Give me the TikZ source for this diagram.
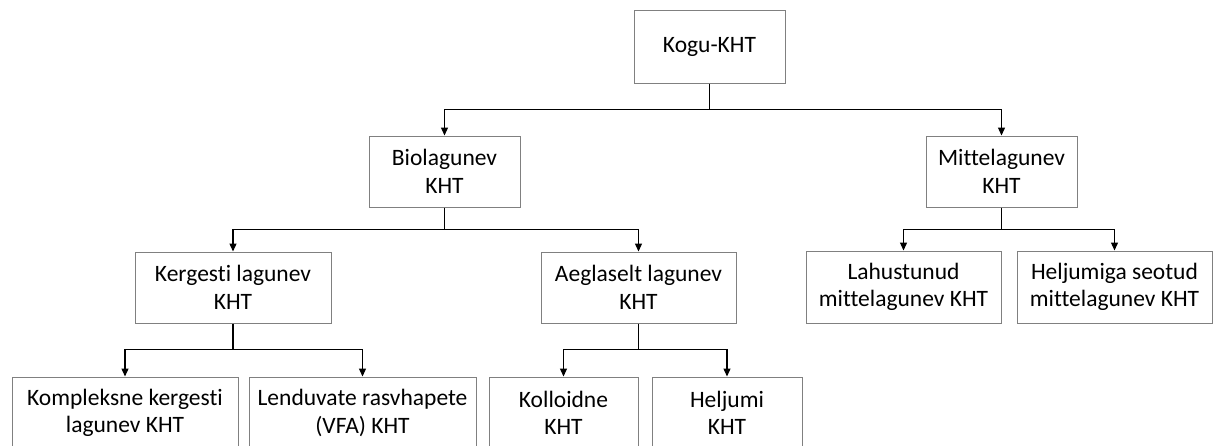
\documentclass[tikz,border=0pt]{standalone}
\usepackage{fontspec}
\setmainfont[RawFeature={-liga;-clig;-dlig}]{Carlito}
\usetikzlibrary{arrows.meta}
\definecolor{boxgray}{RGB}{128,128,128}
\begin{document}
\begin{tikzpicture}[x=1pt,y=-1pt,
  box/.style={draw=boxgray, line width=1pt, minimum height=72pt, align=center, inner sep=0pt,
    font=\fontsize{23.5}{27.5}\selectfont},
  conn/.style={line width=1.3pt, -{Triangle[width=7pt,length=8pt]}},
  trunk/.style={line width=1.3pt}]
\useasboundingbox (0,0) rectangle (1213,445);
\clip (0,0) rectangle (1213,445);
% level 0
\node[box, minimum width=151pt, minimum height=73pt] (kogu) at (709.5,46.5) {Kogu-KHT};
% level 1
\node[box, minimum width=151pt, minimum height=71pt] (bio) at (444.5,171.5) {Biolagunev\\KHT};
\node[box, minimum width=151pt, minimum height=71pt] (mitte) at (1001.5,171.5) {Mittelagunev\\KHT};
% level 2
\node[box, minimum width=196pt, minimum height=71pt] (kerg) at (233,287.5) {Kergesti lagunev\\KHT};
\node[box, minimum width=195pt, minimum height=71pt] (aegl) at (638.5,287.5) {Aeglaselt lagunev\\KHT};
\node[box, minimum width=195pt, minimum height=72pt] (lahu) at (903.5,287) {Lahustunud\\mittelagunev KHT};
\node[box, minimum width=195pt, minimum height=72pt] (helj) at (1114.5,287) {Heljumiga seotud\\mittelagunev KHT};
% level 3
\node[box, minimum width=226pt] (komp) at (125,413) {Kompleksne kergesti\\lagunev KHT};
\node[box, minimum width=227pt] (lend) at (362.5,413) {Lenduvate rasvhapete\\(VFA) KHT};
\node[box, minimum width=149pt] (koll) at (563.5,413) {Kolloidne\\KHT};
\node[box, minimum width=150pt] (heljk) at (727,413) {Heljumi\\KHT};
% connectors
\draw[trunk] (kogu.south) -- ++(0,26) coordinate (busA);
\draw[conn] (busA) -| (bio.north);
\draw[conn] (busA) -| (mitte.north);
\draw[trunk] (bio.south) -- ++(0,22) coordinate (busB);
\draw[conn] (busB) -| (kerg.north);
\draw[conn] (busB) -| (aegl.north);
\draw[trunk] (mitte.south) -- ++(0,22) coordinate (busC);
\draw[conn] (busC) -| (lahu.north);
\draw[conn] (busC) -| (helj.north);
\draw[trunk] (kerg.south) -- ++(0,26) coordinate (busD);
\draw[conn] (busD) -| (komp.north);
\draw[conn] (busD) -| (lend.north);
\draw[trunk] (aegl.south) -- ++(0,26) coordinate (busE);
\draw[conn] (busE) -| (koll.north);
\draw[conn] (busE) -| (heljk.north);
\end{tikzpicture}
\end{document}
